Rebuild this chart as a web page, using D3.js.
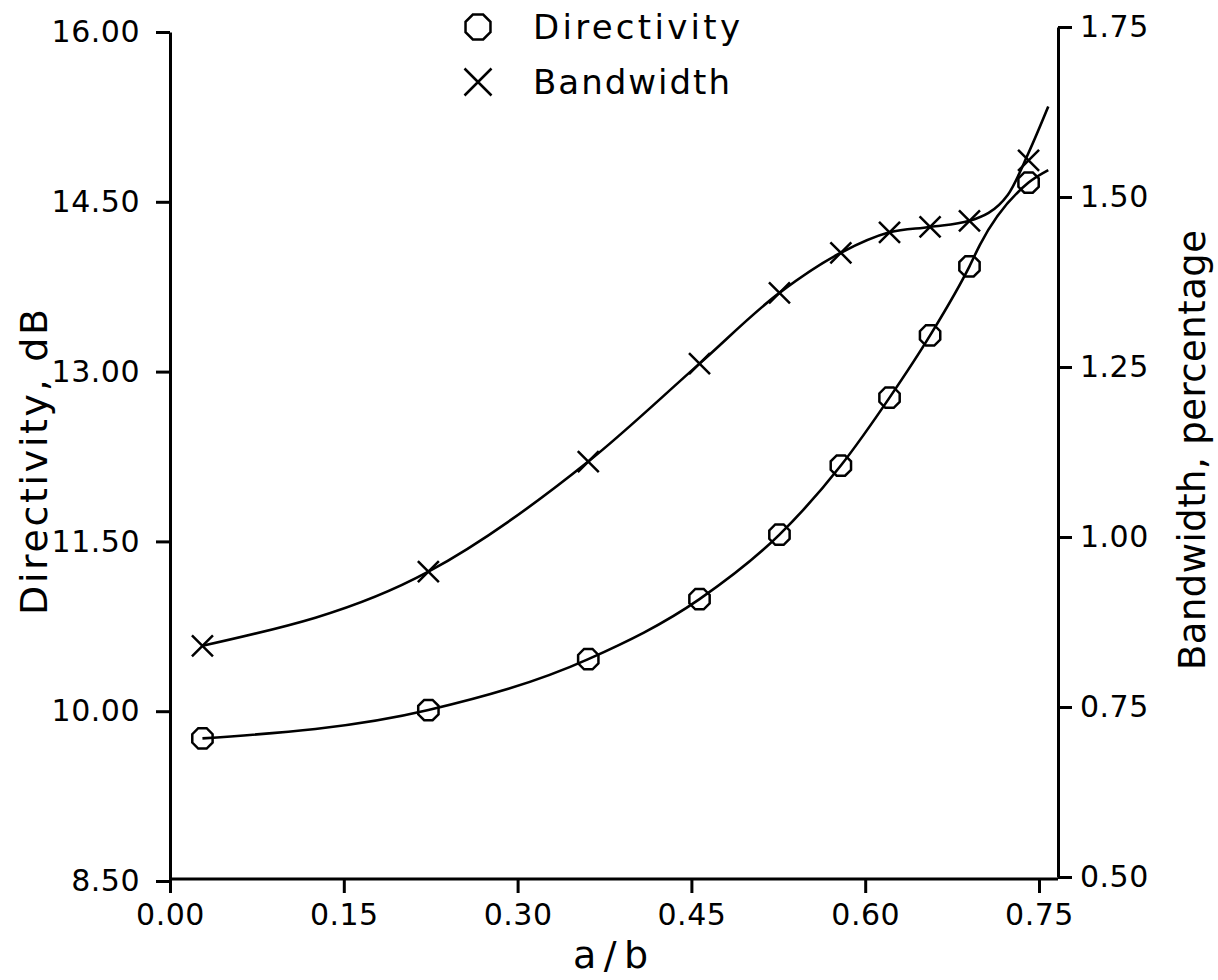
<!DOCTYPE html>
<html>
<head>
<meta charset="utf-8">
<script src="https://cdn.jsdelivr.net/npm/d3@7"></script>
<style>
  body { margin: 0; background: #fff; }
  text { font-family: "DejaVu Sans", sans-serif; fill: #000; }
</style>
</head>
<body>
<svg id="chart" width="1218" height="980"></svg>
<script>
// Measured points: aspect ratio a/b against directivity (dB) and bandwidth (%)
const ratio       = [0.028, 0.223, 0.361, 0.457, 0.526, 0.579, 0.621, 0.656, 0.690, 0.741];
const directivity = [9.76, 10.01, 10.46, 10.99, 11.56, 12.17, 12.77, 13.32, 13.93, 14.67];
const bandwidth   = [0.840, 0.949, 1.111, 1.255, 1.359, 1.418, 1.448, 1.456, 1.465, 1.554];

// Fitted curves drawn through the points, running a little past the last one
const directivityFitX = [0.028, 0.223, 0.361, 0.457, 0.526, 0.579, 0.621, 0.656, 0.690, 0.699, 0.741, 0.758];
const directivityFit  = [9.76, 10.01, 10.46, 10.99, 11.56, 12.17, 12.77, 13.32, 13.93, 14.12, 14.67, 14.78];
const bandwidthFitX   = [0.028, 0.223, 0.361, 0.457, 0.526, 0.579, 0.621, 0.656, 0.690, 0.723, 0.741, 0.758];
const bandwidthFit    = [0.840, 0.949, 1.111, 1.255, 1.359, 1.418, 1.448, 1.456, 1.465, 1.503, 1.565, 1.633];

// Tick values
const xTicks     = [0, 0.15, 0.30, 0.45, 0.60, 0.75];
const leftTicks  = [8.5, 10, 11.5, 13, 14.5, 16];
const rightTicks = [0.5, 0.75, 1.0, 1.25, 1.5, 1.75];

const svg = d3.select("#chart");
const fmt = d3.format(".2f");

const x  = d3.scaleLinear().domain([0, 0.75]).range([170, 1039]);
const yL = d3.scaleLinear().domain([8.5, 16]).range([881, 32]);
const yR = d3.scaleLinear().domain([0.5, 1.75]).range([877, 27]);

const AXIS_W = 3;
const CURVE_W = 2.6;
const MARK_W = 2.5;

function styleAxis(g) {
  g.attr("font-size", null).attr("font-family", null);
  g.selectAll("path, line").attr("stroke", "#000").attr("stroke-width", AXIS_W);
  g.selectAll("text").style("font-size", "30px").attr("letter-spacing", "0.5");
}

// bottom axis
const gx = svg.append("g")
  .attr("transform", "translate(0,879)")
  .call(d3.axisBottom(x).tickValues(xTicks).tickFormat(fmt)
    .tickSize(14).tickPadding(11).tickSizeOuter(0));
gx.select(".domain").remove();
styleAxis(gx);
svg.append("line")
  .attr("x1", 170).attr("x2", 1058).attr("y1", 879).attr("y2", 879)
  .attr("stroke", "#000").attr("stroke-width", AXIS_W);

// left axis
const gl = svg.append("g")
  .attr("transform", "translate(170,0)")
  .call(d3.axisLeft(yL).tickValues(leftTicks).tickFormat(fmt)
    .tickSize(14).tickPadding(16).tickSizeOuter(0));
styleAxis(gl);

// right axis
const gr = svg.append("g")
  .attr("transform", "translate(1058,0)")
  .call(d3.axisRight(yR).tickValues(rightTicks).tickFormat(fmt)
    .tickSize(14).tickPadding(8).tickSizeOuter(0));
styleAxis(gr);

// axis titles
svg.append("text")
  .attr("transform", "translate(47,462) rotate(-90)")
  .attr("text-anchor", "middle")
  .attr("textLength", 306).attr("lengthAdjust", "spacing")
  .style("font-size", "38px")
  .text("Directivity, dB");

svg.append("text")
  .attr("transform", "translate(1205,450) rotate(-90)")
  .attr("text-anchor", "middle")
  .attr("textLength", 440).attr("lengthAdjust", "spacing")
  .style("font-size", "37px")
  .text("Bandwidth, percentage");

svg.append("text")
  .attr("x", 573).attr("y", 968)
  .attr("textLength", 75).attr("lengthAdjust", "spacing")
  .style("font-size", "38px")
  .text("a/b");

// fitted curves
const lineL = d3.line().x(d => x(d[0])).y(d => yL(d[1])).curve(d3.curveMonotoneX);
const lineR = d3.line().x(d => x(d[0])).y(d => yR(d[1])).curve(d3.curveMonotoneX);

svg.append("path")
  .datum(d3.zip(directivityFitX, directivityFit))
  .attr("d", lineL)
  .attr("fill", "none").attr("stroke", "#000").attr("stroke-width", CURVE_W);

svg.append("path")
  .datum(d3.zip(bandwidthFitX, bandwidthFit))
  .attr("d", lineR)
  .attr("fill", "none").attr("stroke", "#000").attr("stroke-width", CURVE_W);

// plotter-style markers
const symbolOctagon = {
  draw(ctx, size) {
    const r = Math.sqrt(size) / 2;
    for (let i = 0; i < 8; i++) {
      const a = Math.PI / 8 + i * Math.PI / 4;
      const px = r * Math.cos(a), py = r * Math.sin(a);
      if (i === 0) ctx.moveTo(px, py); else ctx.lineTo(px, py);
    }
    ctx.closePath();
  }
};
const symbolCross = {
  draw(ctx, size) {
    const h = Math.sqrt(size) / 2;
    ctx.moveTo(-h, -h); ctx.lineTo(h, h);
    ctx.moveTo(-h, h);  ctx.lineTo(h, -h);
  }
};

svg.append("g").selectAll("path")
  .data(d3.zip(ratio, directivity))
  .join("path")
  .attr("transform", d => `translate(${x(d[0])},${yL(d[1])})`)
  .attr("d", d3.symbol(symbolOctagon, 22 * 22))
  .attr("fill", "none").attr("stroke", "#000").attr("stroke-width", MARK_W);

svg.append("g").selectAll("path")
  .data(d3.zip(ratio, bandwidth))
  .join("path")
  .attr("transform", d => `translate(${x(d[0])},${yR(d[1])})`)
  .attr("d", d3.symbol(symbolCross, 21 * 21))
  .attr("fill", "none").attr("stroke", "#000").attr("stroke-width", MARK_W);

// legend
const legend = [
  { label: "Directivity", symbol: symbolOctagon, y: 27, len: 207 },
  { label: "Bandwidth",   symbol: symbolCross,   y: 82, len: 197 }
];
const lg = svg.append("g");
lg.selectAll("path")
  .data(legend)
  .join("path")
  .attr("transform", d => `translate(478,${d.y})`)
  .attr("d", d => d3.symbol(d.symbol, 27 * 27)())
  .attr("fill", "none").attr("stroke", "#000").attr("stroke-width", MARK_W);
lg.selectAll("text")
  .data(legend)
  .join("text")
  .attr("x", 533).attr("y", d => d.y + 12)
  .attr("textLength", d => d.len).attr("lengthAdjust", "spacing")
  .style("font-size", "34px")
  .text(d => d.label);
</script>
</body>
</html>
